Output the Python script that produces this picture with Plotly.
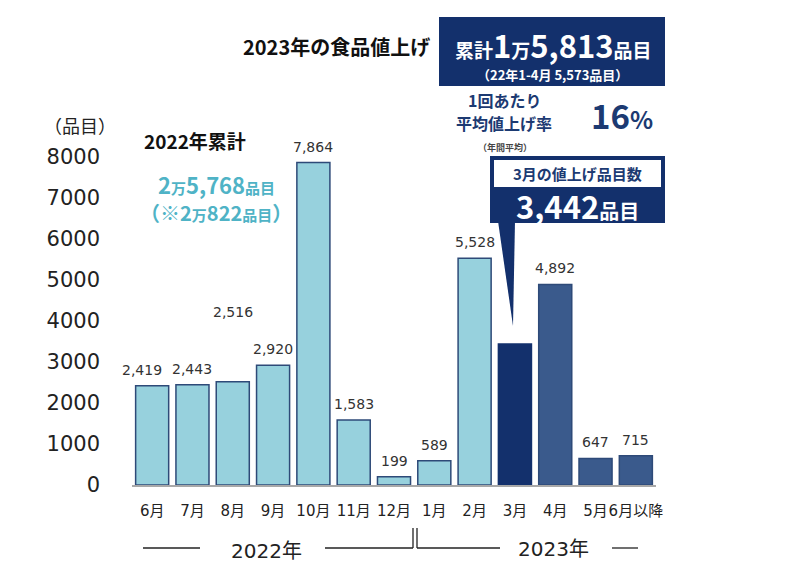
import plotly.graph_objects as go

months = ["6月", "7月", "8月", "9月", "10月", "11月", "12月", "1月", "2月", "3月", "4月", "5月", "6月以降"]
items = [2419, 2443, 2516, 2920, 7864, 1583, 199, 589, 5528, 3442, 4892, 647, 715]
y_ticks = [0, 1000, 2000, 3000, 4000, 5000, 6000, 7000, 8000]

LIGHT = "#97D1DD"
NAVY = "#13306C"
MID = "#3A5A8C"
bar_colors = [LIGHT] * 9 + [NAVY] + [MID] * 3
line_colors = ["#2E4A78"] * 9 + ["#13306C"] + ["#2E4A78"] * 3
label_lift = {"8月": 54}
label_dx = {"6月": -10}
label_hidden = {"3月"}  # shown in the callout instead

FONT = "DejaVu Sans, Noto Sans CJK JP, sans-serif"
JP = "Noto Sans CJK JP, sans-serif"

# target plot area in screen pixels; page body adds an 8px offset
L, R, T, B = 132, 656, 157, 485
W, H = 800, 570
OFF = 8


def px(X):
    return (X - L) / (R - L)


def py(Y):
    return (B - Y) / (B - T)


fig = go.Figure()
fig.add_trace(go.Bar(
    x=months, y=items,
    marker=dict(color=bar_colors, line=dict(color=line_colors, width=1.5)),
    cliponaxis=False,
    hoverinfo="skip",
))

annotations = []
for m, v in zip(months, items):
    if m in label_hidden:
        continue
    annotations.append(dict(
        x=m, y=v, xref="x", yref="y", text=f"{v:,}", showarrow=False,
        yanchor="bottom", yshift=6 + label_lift.get(m, 0), xshift=label_dx.get(m, 0),
        font=dict(family=FONT, size=14, color="#333333"),
    ))


def ann(X, Y, text, size, color="#111111", bold=False, xanchor="center", family=JP):
    if bold:
        text = f"<b>{text}</b>"
    annotations.append(dict(
        x=px(X), y=py(Y), xref="paper", yref="paper", text=text, showarrow=False,
        xanchor=xanchor, yanchor="middle", font=dict(family=family, size=size, color=color),
    ))


shapes = []


def rect(x0, y0, x1, y1, color):
    shapes.append(dict(type="rect", xref="paper", yref="paper",
                       x0=px(x0), x1=px(x1), y0=py(y1), y1=py(y0),
                       fillcolor=color, line=dict(width=0), layer="above"))


def seg(x0, y0, x1, y1, color="#222222", width=1.3):
    shapes.append(dict(type="line", xref="paper", yref="paper",
                       x0=px(x0), x1=px(x1), y0=py(y0), y1=py(y1),
                       line=dict(color=color, width=width)))


# top header
ann(336, 46, "2023年の食品値上げ", 20, "#111111", bold=True)
rect(439, 17, 665, 86, NAVY)
ann(553, 45,
    "<b><span style='font-size:19px'>累計</span>1<span style='font-size:19px'>万</span>5,813"
    "<span style='font-size:19px'>品目</span></b>", 31, "#FFFFFF")
ann(552, 74, "<b>（22年1-4月 5,573品目）</b>", 13, "#FFFFFF")

# average rate
ann(504, 100, "1回あたり", 16, "#1C3A72", bold=True)
ann(504, 123, "平均値上げ率", 16, "#1C3A72", bold=True)
ann(622, 115, "<b>16<span style='font-size:24px'>%</span></b>", 33, "#1C3A72")
ann(505, 147, "（年間平均）", 9, "#444444", bold=True)

# March callout
shapes.append(dict(type="path", xref="paper", yref="paper",
                   path=f"M {px(498)},{py(221)} L {px(515)},{py(221)} L {px(513)},{py(326)} Z",
                   fillcolor=NAVY, line=dict(width=0), layer="above"))
rect(490, 156, 665, 223, NAVY)
rect(494, 160, 661, 187, "#FFFFFF")
ann(577, 173, "3月の値上げ品目数", 15, "#1C3A72", bold=True)
ann(577, 205, "<b>3,442<span style='font-size:20px'>品目</span></b>", 31, "#FFFFFF")

# 2022 totals
ann(195, 140, "2022年累計", 19, "#111111", bold=True)
ann(216, 184,
    "<b>2<span style='font-size:15px'>万</span>5,768<span style='font-size:15px'>品目</span></b>",
    22, "#4FB3C6")
ann(216, 212,
    "<b>（※2<span style='font-size:15px'>万</span>822<span style='font-size:15px'>品目</span>）</b>",
    20, "#4FB3C6")

# unit label
ann(80, 125, "（品目）", 18, "#222222")

# year labels under axis
ann(266, 551, "2022年", 20, "#222222", family=FONT)
ann(553, 549, "2023年", 20, "#222222", family=FONT)
seg(143, 548, 200, 548)
seg(325, 548, 413, 548)
seg(413, 548, 413, 528)
seg(417, 528, 417, 548)
seg(417, 548, 500, 548)
seg(612, 548, 638, 548)

fig.update_layout(
    width=W, height=H,
    margin=dict(l=L - OFF, r=W - R + OFF, t=T - OFF, b=H - B + OFF, pad=0),
    paper_bgcolor="#FFFFFF", plot_bgcolor="#FFFFFF",
    showlegend=False,
    bargap=0.18,
    annotations=annotations,
    shapes=shapes,
    xaxis=dict(
        type="category", range=[-0.5, len(months) - 0.5],
        showgrid=False, showline=True, linecolor="#A8A8A8", linewidth=2,
        ticks="", ticklabelstandoff=11, tickangle=0, automargin=False,
        tickfont=dict(family=FONT, size=15, color="#222222"),
        fixedrange=True,
    ),
    yaxis=dict(
        range=[0, 8000], tickvals=y_ticks, ticktext=[str(t) for t in y_ticks],
        showgrid=False, zeroline=False, showline=False, ticks="", automargin=False,
        ticklabelstandoff=31, tickfont=dict(family=FONT, size=21, color="#222222"),
        fixedrange=True,
    ),
)

fig.write_html("out.html")
